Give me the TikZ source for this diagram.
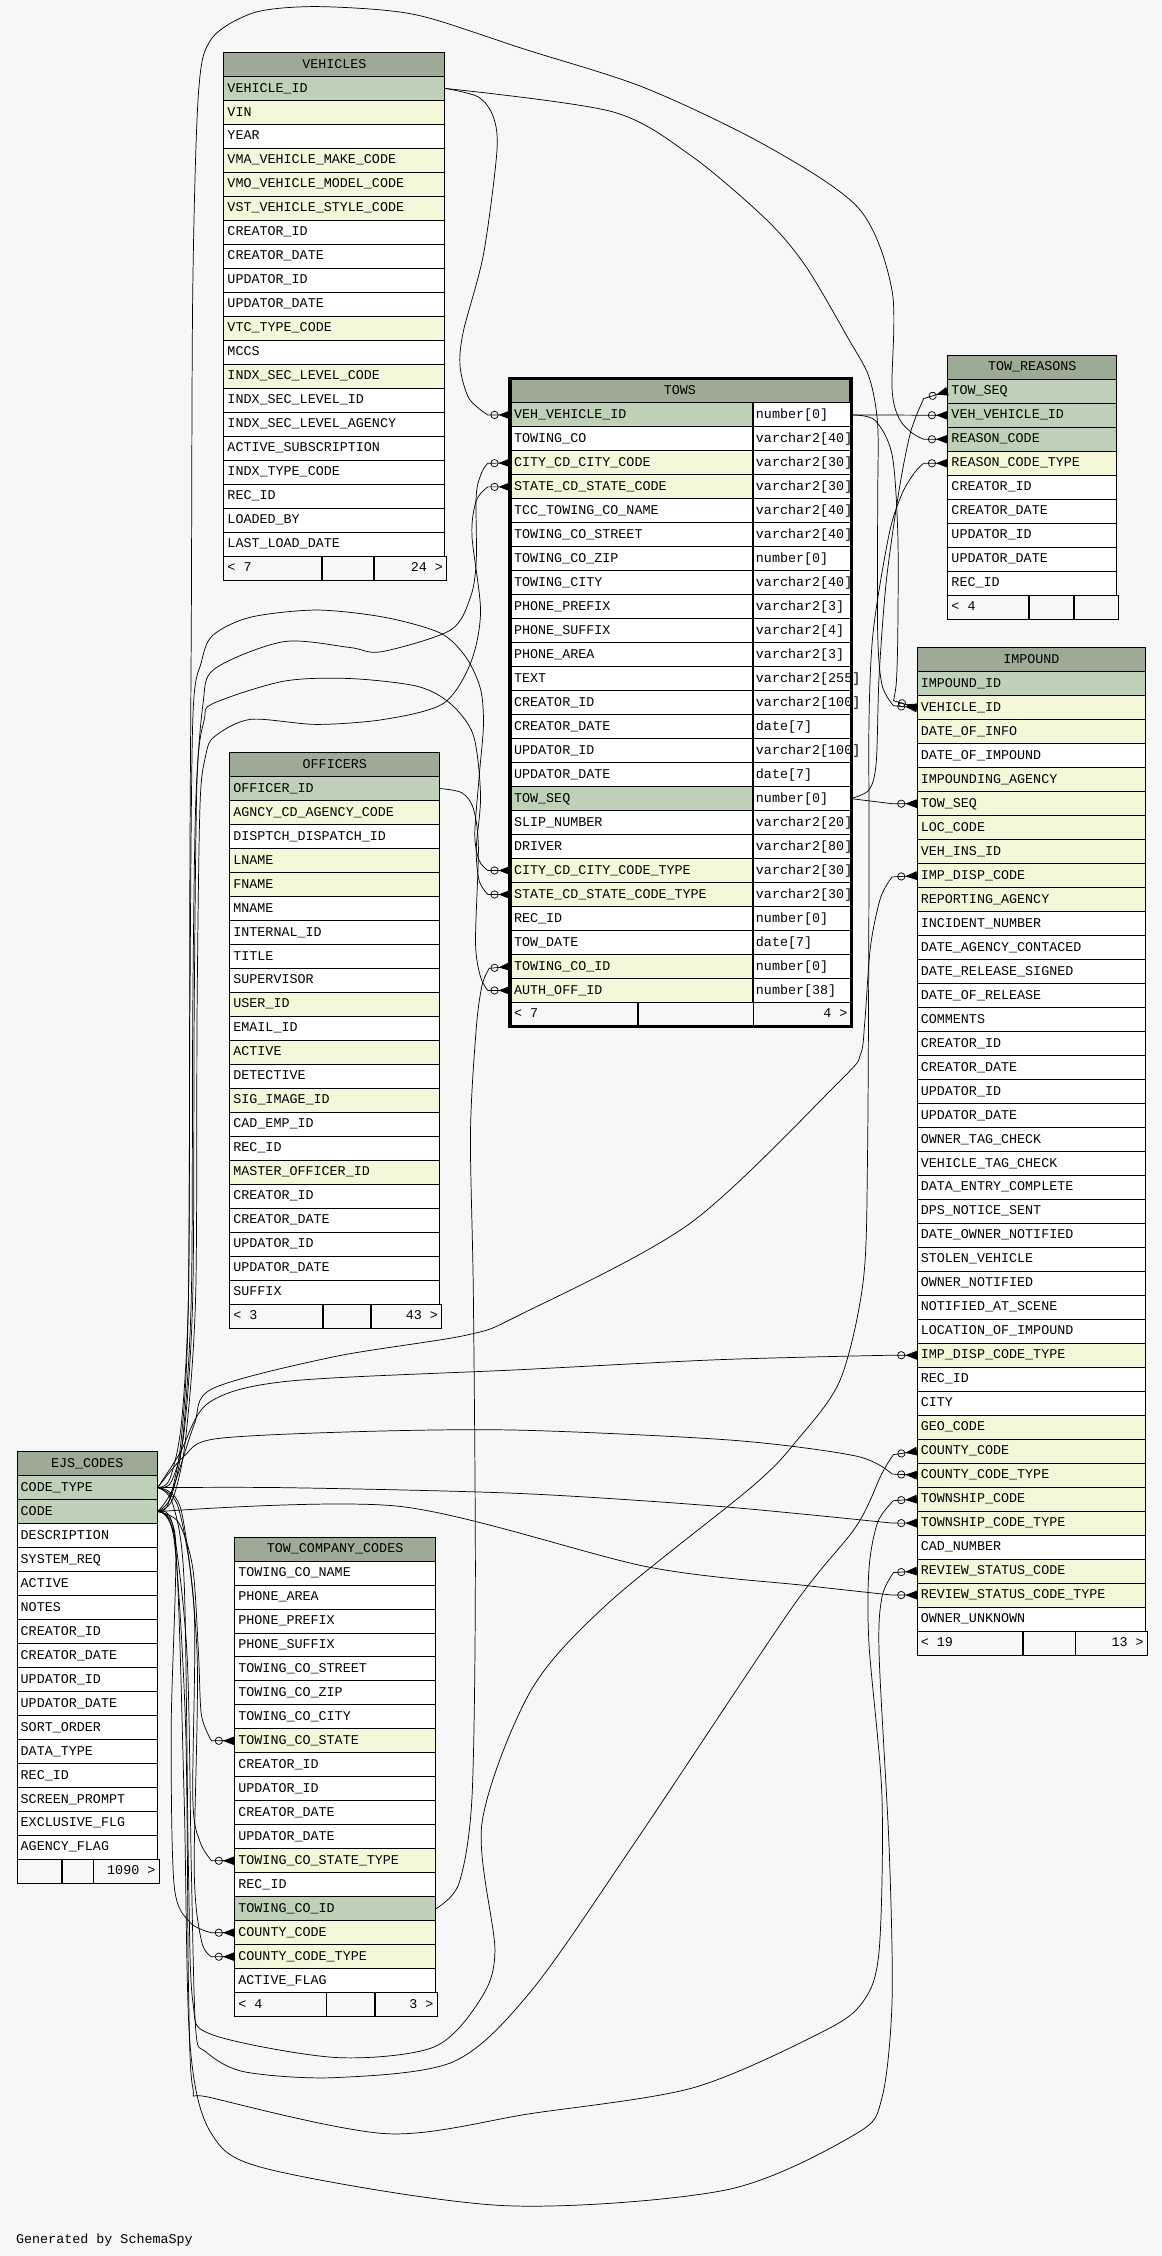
\documentclass[tikz,border=0pt]{standalone}
\usepackage{fontspec}
\newfontfamily\tabfam{Liberation Mono}
\usetikzlibrary{arrows.meta,positioning}

\definecolor{titlec}{RGB}{157,171,150}
\definecolor{pkc}{RGB}{190,209,184}
\definecolor{fkc}{RGB}{244,247,218}
\definecolor{bgc}{RGB}{247,247,247}

\tikzset{
  cell/.style={draw=black, line width=0.6pt, anchor=west, inner sep=0pt,
    minimum height=16.667pt, text height=7pt, text depth=2pt,
    font=\tabfam\fontsize{9.3}{11}\selectfont},
  tabtitle/.style={cell, fill=titlec},
  footcell/.style={cell, fill=bgc},
  fk/.style={line width=0.5pt,
    -{Circle[open,length=5.6pt,width=5.6pt]Triangle[reversed,length=8pt,width=6pt]}}
}

% title row of a table: name, left x, centre y, width, text
\newcommand{\dbtitle}[5]{%
  \node[tabtitle] (#1-0) at (#2,#3) {\hbox to #4pt{\hfil#5\hfil}};}
% column rows: name, left x, title y, width, list fill/text
\newcommand{\dbrows}[5]{%
  \foreach \f/\c [count=\i] in {#5}
    \node[cell, fill=\f] (#1-\i) at (#2,#3+\i*16.667) {\hbox to #4pt{\hspace{2.5pt}\c\hfil}};}
% footer: name, left x, centre y, three widths, left text, right text
\newcommand{\dbfoot}[8]{%
  \node[footcell] (#1-foot1) at (#2,#3) {\hbox to #4pt{\hspace{2.5pt}#7\hfil}};
  \node[footcell] (#1-foot2) at (#1-foot1.east) {\hbox to #5pt{\hfil}};
  \node[footcell] (#1-foot3) at (#1-foot2.east) {\hbox to #6pt{\hfil#8\hspace{2.5pt}}};}

\begin{document}
\begin{tikzpicture}[x=1pt,y=-1pt]
\fill[bgc] (0,0) rectangle (807,1568);
\useasboundingbox (0,0) rectangle (807,1568);

% VEHICLES
\dbtitle{veh}{155.3}{44.8}{153.6}{VEHICLES}
\dbrows{veh}{155.3}{44.8}{153.6}{pkc/VEHICLE\_ID, fkc/VIN, white/YEAR,
  fkc/VMA\_VEHICLE\_MAKE\_CODE, fkc/VMO\_VEHICLE\_MODEL\_CODE, fkc/VST\_VEHICLE\_STYLE\_CODE,
  white/CREATOR\_ID, white/CREATOR\_DATE, white/UPDATOR\_ID, white/UPDATOR\_DATE,
  fkc/VTC\_TYPE\_CODE, white/MCCS, fkc/INDX\_SEC\_LEVEL\_CODE, white/INDX\_SEC\_LEVEL\_ID,
  white/INDX\_SEC\_LEVEL\_AGENCY, white/ACTIVE\_SUBSCRIPTION, white/INDX\_TYPE\_CODE,
  white/REC\_ID, white/LOADED\_BY, white/LAST\_LOAD\_DATE}
\dbfoot{veh}{155.3}{394.8}{67.6}{36}{50}{< 7}{24 >}

% TOWS
\dbtitle{tows}{354.5}{271.7}{235.5}{TOWS}
\foreach \f/\c/\t [count=\i] in {pkc/VEH\_VEHICLE\_ID/number[0], white/TOWING\_CO/varchar2[40],
  fkc/CITY\_CD\_CITY\_CODE/varchar2[30], fkc/STATE\_CD\_STATE\_CODE/varchar2[30],
  white/TCC\_TOWING\_CO\_NAME/varchar2[40], white/TOWING\_CO\_STREET/varchar2[40],
  white/TOWING\_CO\_ZIP/number[0], white/TOWING\_CITY/varchar2[40],
  white/PHONE\_PREFIX/varchar2[3], white/PHONE\_SUFFIX/varchar2[4], white/PHONE\_AREA/varchar2[3],
  white/TEXT/varchar2[255], white/CREATOR\_ID/varchar2[100], white/CREATOR\_DATE/date[7],
  white/UPDATOR\_ID/varchar2[100], white/UPDATOR\_DATE/date[7], pkc/TOW\_SEQ/number[0],
  white/SLIP\_NUMBER/varchar2[20], white/DRIVER/varchar2[80],
  fkc/CITY\_CD\_CITY\_CODE\_TYPE/varchar2[30], fkc/STATE\_CD\_STATE\_CODE\_TYPE/varchar2[30],
  white/REC\_ID/number[0], white/TOW\_DATE/date[7], fkc/TOWING\_CO\_ID/number[0],
  fkc/AUTH\_OFF\_ID/number[38]} {
  \node[cell, fill=\f] (tows-\i) at (354.5,271.7+\i*16.667) {\hbox to 168pt{\hspace{2.5pt}\c\hfil}};
  \node[cell, fill=white] (towsT-\i) at (tows-\i.east) {\hbox to 67.5pt{\hspace{2pt}\t\hfil}};
}
\dbfoot{tows}{354.5}{705}{88.5}{79.5}{67.5}{< 7}{4 >}
\draw[line width=2.2pt] (tows-0.north west) rectangle (tows-foot3.south east);

% TOW_REASONS
\dbtitle{rsn}{658.5}{255.3}{117.3}{TOW\_REASONS}
\dbrows{rsn}{658.5}{255.3}{117.3}{pkc/TOW\_SEQ, pkc/VEH\_VEHICLE\_ID, pkc/REASON\_CODE,
  fkc/REASON\_CODE\_TYPE, white/CREATOR\_ID, white/CREATOR\_DATE, white/UPDATOR\_ID,
  white/UPDATOR\_DATE, white/REC\_ID}
\dbfoot{rsn}{658.5}{422}{56.1}{30.8}{30.4}{< 4}{}

% IMPOUND
\dbtitle{imp}{637.2}{458.6}{158.7}{IMPOUND}
\dbrows{imp}{637.2}{458.6}{158.7}{pkc/IMPOUND\_ID, fkc/VEHICLE\_ID, fkc/DATE\_OF\_INFO,
  white/DATE\_OF\_IMPOUND, fkc/IMPOUNDING\_AGENCY, fkc/TOW\_SEQ, fkc/LOC\_CODE, fkc/VEH\_INS\_ID,
  fkc/IMP\_DISP\_CODE, fkc/REPORTING\_AGENCY, white/INCIDENT\_NUMBER,
  white/DATE\_AGENCY\_CONTACED, white/DATE\_RELEASE\_SIGNED, white/DATE\_OF\_RELEASE,
  white/COMMENTS, white/CREATOR\_ID, white/CREATOR\_DATE, white/UPDATOR\_ID, white/UPDATOR\_DATE,
  white/OWNER\_TAG\_CHECK, white/VEHICLE\_TAG\_CHECK, white/DATA\_ENTRY\_COMPLETE,
  white/DPS\_NOTICE\_SENT, white/DATE\_OWNER\_NOTIFIED, white/STOLEN\_VEHICLE,
  white/OWNER\_NOTIFIED, white/NOTIFIED\_AT\_SCENE, white/LOCATION\_OF\_IMPOUND,
  fkc/IMP\_DISP\_CODE\_TYPE, white/REC\_ID, white/CITY, fkc/GEO\_CODE, fkc/COUNTY\_CODE,
  fkc/COUNTY\_CODE\_TYPE, fkc/TOWNSHIP\_CODE, fkc/TOWNSHIP\_CODE\_TYPE, white/CAD\_NUMBER,
  fkc/REVIEW\_STATUS\_CODE, fkc/REVIEW\_STATUS\_CODE\_TYPE, white/OWNER\_UNKNOWN}
\dbfoot{imp}{637.2}{1141.9}{72.9}{36.2}{49.6}{< 19}{13 >}

% OFFICERS
\dbtitle{off}{159.4}{531.4}{146}{OFFICERS}
\dbrows{off}{159.4}{531.4}{146}{pkc/OFFICER\_ID, fkc/AGNCY\_CD\_AGENCY\_CODE,
  white/DISPTCH\_DISPATCH\_ID, fkc/LNAME, fkc/FNAME, white/MNAME, white/INTERNAL\_ID,
  white/TITLE, white/SUPERVISOR, fkc/USER\_ID, white/EMAIL\_ID, fkc/ACTIVE, white/DETECTIVE,
  fkc/SIG\_IMAGE\_ID, white/CAD\_EMP\_ID, white/REC\_ID, fkc/MASTER\_OFFICER\_ID,
  white/CREATOR\_ID, white/CREATOR\_DATE, white/UPDATOR\_ID, white/UPDATOR\_DATE, white/SUFFIX}
\dbfoot{off}{159.4}{914.7}{64.2}{33.1}{48.7}{< 3}{43 >}

% EJS_CODES
\dbtitle{ejs}{11.6}{1017.3}{97.4}{EJS\_CODES}
\dbrows{ejs}{11.6}{1017.3}{97.4}{pkc/CODE\_TYPE, pkc/CODE, white/DESCRIPTION,
  white/SYSTEM\_REQ, white/ACTIVE, white/NOTES, white/CREATOR\_ID, white/CREATOR\_DATE,
  white/UPDATOR\_ID, white/UPDATOR\_DATE, white/SORT\_ORDER, white/DATA\_TYPE, white/REC\_ID,
  white/SCREEN\_PROMPT, white/EXCLUSIVE\_FLG, white/AGENCY\_FLAG}
\dbfoot{ejs}{11.6}{1300.6}{30.6}{21.5}{45.3}{}{1090 >}

% TOW_COMPANY_CODES
\dbtitle{tcc}{162.9}{1076.6}{139.4}{TOW\_COMPANY\_CODES}
\dbrows{tcc}{162.9}{1076.6}{139.4}{white/TOWING\_CO\_NAME, white/PHONE\_AREA,
  white/PHONE\_PREFIX, white/PHONE\_SUFFIX, white/TOWING\_CO\_STREET, white/TOWING\_CO\_ZIP,
  white/TOWING\_CO\_CITY, fkc/TOWING\_CO\_STATE, white/CREATOR\_ID, white/UPDATOR\_ID,
  white/CREATOR\_DATE, white/UPDATOR\_DATE, fkc/TOWING\_CO\_STATE\_TYPE, white/REC\_ID,
  pkc/TOWING\_CO\_ID, fkc/COUNTY\_CODE, fkc/COUNTY\_CODE\_TYPE, white/ACTIVE\_FLAG}
\dbfoot{tcc}{162.9}{1393.3}{63.4}{33}{43}{< 4}{3 >}

% relationships from VEHICLES, TOWS, OFFICERS, TOW_COMPANY_CODES
\draw[fk] plot[smooth] coordinates {(veh-1.east) (332.5,67.4) (343,81.6) (345.3,106) (336,177) (322,230.5) (319.8,255) (326,277) (339,288.4)} -- (tows-1.west);
\draw[fk] plot[smooth] coordinates {(veh-1.east) (425,77.5) (480,108) (532,152) (560,185) (590,236) (604,262) (610,295) (610,350) (610,440) (613,476) (621,490.5)} -- (imp-2.west);
\draw[fk] (towsT-1.east) -- (rsn-2.west);
\draw[fk] plot[smooth] coordinates {(towsT-1.east) (608,292) (620,316) (624,371) (624,440) (623,474) (621,487)} -- (imp-2.west);
\draw[fk] plot[smooth] coordinates {(towsT-17.east) (604,549) (609,530) (611,470) (616,404) (625,340) (633,300) (642,277)} -- (rsn-1.west);
\draw[fk] (towsT-17.east) -- (620,558.6) -- (imp-6.west);
\draw[fk] plot[smooth] coordinates {(off-1.east) (321,551) (329,562) (332.5,589) (330.5,655) (334,679) (339,688.4)} -- (tows-25.west);
\draw[fk] plot[smooth] coordinates {(tcc-15.east) (319,1309) (328,1250) (330.4,1100) (329,900) (327,788) (331,715) (335,685) (340,673)} -- (tows-24.west);

% relationships from EJS_CODES
\draw[fk] plot[smooth] coordinates {(ejs-2.east) (119,1040) (127,1000) (133,900) (134,700) (136,560) (141,490) (149,465) (197,446) (243,450) (265,453) (313,438) (327,415) (331,390) (331,344) (335,328) (339,322)} -- (tows-3.west);
\draw[fk] plot[smooth] coordinates {(ejs-2.east) (120,1042) (129,1000) (136,900) (137,700) (139,560) (143,525) (149,512) (174,500) (220,503.5) (267,500) (308,489) (327,461) (334,425) (328,372) (331,348) (339,338.4)} -- (tows-4.west);
\draw[fk] plot[smooth] coordinates {(ejs-1.east) (118,1028) (126,990) (131,900) (132,700) (134,500) (140,460) (148,441.5) (174,429) (220,424) (267,429) (306,440) (324,457) (334,479) (336,504) (333,540) (330,580) (333,598) (339,605)} -- (tows-20.west);
\draw[fk] plot[smooth] coordinates {(ejs-1.east) (119,1030) (128,995) (134,900) (135,700) (137,540) (142,500) (148,489) (197,473.5) (243,471.6) (290,477) (313,489) (329,511) (334,553) (331,590) (333,612) (339,621.7)} -- (tows-21.west);
\draw[fk] plot[smooth] coordinates {(ejs-2.east) (117,1045) (126,1000) (131,900) (132,600) (133,425) (134,200) (138,64) (147,27) (176,9) (215,4.6) (266,7) (300,13) (364,34) (448,61) (532,101) (597,145) (620,202) (620,270) (625,291) (634,301) (642,305.3)} -- (rsn-3.west);
\draw[fk] plot[smooth] coordinates {(ejs-1.east) (120,1045) (128,1100) (131,1300) (134,1391) (147,1414) (233,1430) (301,1423) (333,1391) (344,1356) (335,1267) (369,1175) (423,1114) (523,1033) (554,1001) (584,959) (600,890) (603,800) (604,600) (604,500) (607,438) (618,371) (627,343) (636,328) (642,322)} -- (rsn-4.west);
\draw[fk] plot[smooth] coordinates {(ejs-2.east) (120,1035) (135,990) (148,965) (232,943) (324,928) (361,914) (480,850) (584,751) (598,733) (601,711) (605,658) (612,624) (620,609.5)} -- (imp-9.west);
\draw[fk] plot[smooth] coordinates {(ejs-1.east) (125,1010) (145,975) (200,960) (361,952) (500,945) (620,941.9)} -- (imp-29.west);
\draw[fk] plot[smooth] coordinates {(ejs-2.east) (120,1060) (130,1150) (133,1300) (136,1410) (143,1426) (170,1440) (233,1444) (315,1433) (369,1384) (441,1281) (550,1118) (595,1061) (613,1024) (621,1011)} -- (imp-33.west);
\draw[fk] plot[smooth] coordinates {(ejs-1.east) (128,1012) (150,1000) (250,995) (361,994) (509,1001) (595,1012) (620,1024.5)} -- (imp-34.west);
\draw[fk] plot[smooth] coordinates {(ejs-2.east) (121,1070) (129,1200) (131,1380) (134,1451) (147,1458) (269,1483) (369,1469) (482,1451) (572,1412) (600,1391) (611,1356) (613,1249) (604,1143) (604,1090) (610,1058) (621,1043)} -- (imp-35.west);
\draw[fk] plot[smooth] coordinates {(ejs-1.east) (200,1034) (361,1038) (500,1047) (620,1058.6)} -- (imp-36.west);
\draw[fk] plot[smooth] coordinates {(ejs-2.east) (122,1075) (128,1250) (132,1420) (147,1483) (188,1508) (351,1533) (505,1522) (595,1483) (613,1458) (620,1391) (618,1285) (611,1150) (613,1110) (621,1093)} -- (imp-38.west);
\draw[fk] plot[smooth] coordinates {(ejs-2.east) (278,1047) (450,1089) (560,1102) (620,1108.6)} -- (imp-39.west);
\draw[fk] plot[smooth] coordinates {(ejs-2.east) (124,1058) (134,1090) (138,1150) (140,1192) (147,1209.9)} -- (tcc-8.west);
\draw[fk] plot[smooth] coordinates {(ejs-1.east) (124,1048) (135,1120) (134,1250) (139,1280) (147,1293.3)} -- (tcc-13.west);
\draw[fk] plot[smooth] coordinates {(ejs-2.east) (122,1070) (119,1200) (121,1310) (132,1336) (147,1343.3)} -- (tcc-16.west);
\draw[fk] plot[smooth] coordinates {(ejs-1.east) (126,1050) (137,1150) (135,1300) (140,1349) (147,1360)} -- (tcc-17.west);

\node[anchor=base west, inner sep=0pt, font=\tabfam\fontsize{9.3}{11}\selectfont] (gen) at (11,1559) {Generated by SchemaSpy};
\end{tikzpicture}
\end{document}
